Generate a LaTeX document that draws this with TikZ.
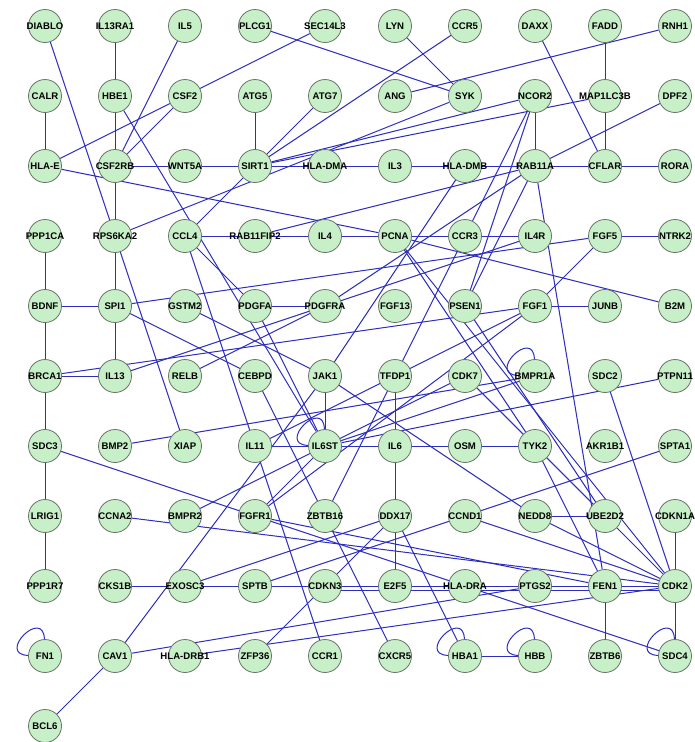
\documentclass[tikz,border=0pt]{standalone}
\usepackage{fontspec}
\setsansfont{Liberation Sans}
\usetikzlibrary{backgrounds}
\definecolor{edgeblue}{RGB}{45,45,190}
\definecolor{nodefill}{RGB}{200,240,200}
\definecolor{nodeline}{RGB}{105,115,105}
\tikzset{
  gn/.style={circle,minimum size=33pt,inner sep=0pt,fill=nodefill,draw=nodeline,line width=0.8pt,
    font=\sffamily\bfseries\fontsize{9.6}{11}\selectfont,text=black},
  ed/.style={draw=edgeblue,line width=1pt},
  selfloop/.style={out=178,in=92,distance=32pt}
}
\newcommand\gnode[4]{\node[gn] (#3) at ({45+70*#1},{26+70*#2}) {\makebox[0pt]{#4}};}
\begin{document}
\begin{tikzpicture}[x=1pt,y=-1pt]
\useasboundingbox (0,0) rectangle (695,742);
% row 0
\gnode{0}{0}{DIABLO}{DIABLO}
\gnode{1}{0}{IL13RA1}{IL13RA1}
\gnode{2}{0}{IL5}{IL5}
\gnode{3}{0}{PLCG1}{PLCG1}
\gnode{4}{0}{SEC14L3}{SEC14L3}
\gnode{5}{0}{LYN}{LYN}
\gnode{6}{0}{CCR5}{CCR5}
\gnode{7}{0}{DAXX}{DAXX}
\gnode{8}{0}{FADD}{FADD}
\gnode{9}{0}{RNH1}{RNH1}
% row 1
\gnode{0}{1}{CALR}{CALR}
\gnode{1}{1}{HBE1}{HBE1}
\gnode{2}{1}{CSF2}{CSF2}
\gnode{3}{1}{ATG5}{ATG5}
\gnode{4}{1}{ATG7}{ATG7}
\gnode{5}{1}{ANG}{ANG}
\gnode{6}{1}{SYK}{SYK}
\gnode{7}{1}{NCOR2}{NCOR2}
\gnode{8}{1}{MAP1LC3B}{MAP1LC3B}
\gnode{9}{1}{DPF2}{DPF2}
% row 2
\gnode{0}{2}{HLAE}{HLA-E}
\gnode{1}{2}{CSF2RB}{CSF2RB}
\gnode{2}{2}{WNT5A}{WNT5A}
\gnode{3}{2}{SIRT1}{SIRT1}
\gnode{4}{2}{HLADMA}{HLA-DMA}
\gnode{5}{2}{IL3}{IL3}
\gnode{6}{2}{HLADMB}{HLA-DMB}
\gnode{7}{2}{RAB11A}{RAB11A}
\gnode{8}{2}{CFLAR}{CFLAR}
\gnode{9}{2}{RORA}{RORA}
% row 3
\gnode{0}{3}{PPP1CA}{PPP1CA}
\gnode{1}{3}{RPS6KA2}{RPS6KA2}
\gnode{2}{3}{CCL4}{CCL4}
\gnode{3}{3}{RAB11FIP2}{RAB11FIP2}
\gnode{4}{3}{IL4}{IL4}
\gnode{5}{3}{PCNA}{PCNA}
\gnode{6}{3}{CCR3}{CCR3}
\gnode{7}{3}{IL4R}{IL4R}
\gnode{8}{3}{FGF5}{FGF5}
\gnode{9}{3}{NTRK2}{NTRK2}
% row 4
\gnode{0}{4}{BDNF}{BDNF}
\gnode{1}{4}{SPI1}{SPI1}
\gnode{2}{4}{GSTM2}{GSTM2}
\gnode{3}{4}{PDGFA}{PDGFA}
\gnode{4}{4}{PDGFRA}{PDGFRA}
\gnode{5}{4}{FGF13}{FGF13}
\gnode{6}{4}{PSEN1}{PSEN1}
\gnode{7}{4}{FGF1}{FGF1}
\gnode{8}{4}{JUNB}{JUNB}
\gnode{9}{4}{B2M}{B2M}
% row 5
\gnode{0}{5}{BRCA1}{BRCA1}
\gnode{1}{5}{IL13}{IL13}
\gnode{2}{5}{RELB}{RELB}
\gnode{3}{5}{CEBPD}{CEBPD}
\gnode{4}{5}{JAK1}{JAK1}
\gnode{5}{5}{TFDP1}{TFDP1}
\gnode{6}{5}{CDK7}{CDK7}
\gnode{7}{5}{BMPR1A}{BMPR1A}
\gnode{8}{5}{SDC2}{SDC2}
\gnode{9}{5}{PTPN11}{PTPN11}
% row 6
\gnode{0}{6}{SDC3}{SDC3}
\gnode{1}{6}{BMP2}{BMP2}
\gnode{2}{6}{XIAP}{XIAP}
\gnode{3}{6}{IL11}{IL11}
\gnode{4}{6}{IL6ST}{IL6ST}
\gnode{5}{6}{IL6}{IL6}
\gnode{6}{6}{OSM}{OSM}
\gnode{7}{6}{TYK2}{TYK2}
\gnode{8}{6}{AKR1B1}{AKR1B1}
\gnode{9}{6}{SPTA1}{SPTA1}
% row 7
\gnode{0}{7}{LRIG1}{LRIG1}
\gnode{1}{7}{CCNA2}{CCNA2}
\gnode{2}{7}{BMPR2}{BMPR2}
\gnode{3}{7}{FGFR1}{FGFR1}
\gnode{4}{7}{ZBTB16}{ZBTB16}
\gnode{5}{7}{DDX17}{DDX17}
\gnode{6}{7}{CCND1}{CCND1}
\gnode{7}{7}{NEDD8}{NEDD8}
\gnode{8}{7}{UBE2D2}{UBE2D2}
\gnode{9}{7}{CDKN1A}{CDKN1A}
% row 8
\gnode{0}{8}{PPP1R7}{PPP1R7}
\gnode{1}{8}{CKS1B}{CKS1B}
\gnode{2}{8}{EXOSC3}{EXOSC3}
\gnode{3}{8}{SPTB}{SPTB}
\gnode{4}{8}{CDKN3}{CDKN3}
\gnode{5}{8}{E2F5}{E2F5}
\gnode{6}{8}{HLADRA}{HLA-DRA}
\gnode{7}{8}{PTGS2}{PTGS2}
\gnode{8}{8}{FEN1}{FEN1}
\gnode{9}{8}{CDK2}{CDK2}
% row 9
\gnode{0}{9}{FN1}{FN1}
\gnode{1}{9}{CAV1}{CAV1}
\gnode{2}{9}{HLADRB1}{HLA-DRB1}
\gnode{3}{9}{ZFP36}{ZFP36}
\gnode{4}{9}{CCR1}{CCR1}
\gnode{5}{9}{CXCR5}{CXCR5}
\gnode{6}{9}{HBA1}{HBA1}
\gnode{7}{9}{HBB}{HBB}
\gnode{8}{9}{ZBTB6}{ZBTB6}
\gnode{9}{9}{SDC4}{SDC4}
% row 10
\gnode{0}{10}{BCL6}{BCL6}
\begin{scope}[on background layer]
\foreach \a/\b in {DIABLO/RPS6KA2, IL13RA1/HBE1, IL5/CSF2RB, PLCG1/SYK, SEC14L3/CSF2,
  LYN/SYK, CCR5/SIRT1, DAXX/CFLAR, FADD/MAP1LC3B, RNH1/ANG, CALR/HLAE, HBE1/CSF2RB,
  HBE1/IL6ST, CSF2/HLAE, CSF2/CSF2RB, ATG5/SIRT1, ATG7/SIRT1, SYK/RPS6KA2, NCOR2/SIRT1,
  MAP1LC3B/SIRT1, NCOR2/RAB11A, NCOR2/CCR3, NCOR2/PSEN1, MAP1LC3B/CFLAR, DPF2/RAB11A,
  HLAE/PCNA, CSF2RB/WNT5A, WNT5A/SIRT1, CSF2RB/RPS6KA2, SIRT1/HLADMA, HLADMA/IL3,
  IL3/HLADMB, HLADMB/RAB11A, RAB11A/CFLAR, CFLAR/RORA, SIRT1/CCL4, HLADMB/JAK1,
  RAB11A/RAB11FIP2, RAB11A/PDGFRA, RAB11A/PSEN1, RAB11A/FEN1, CCL4/RAB11FIP2,
  RAB11FIP2/IL4, IL4/PCNA, PCNA/CCR3, CCR3/IL4R, PCNA/B2M, PCNA/TYK2, PCNA/CDK2,
  FGF5/NTRK2, SPI1/FGF5, FGF5/FGF1, RPS6KA2/SPI1, RPS6KA2/XIAP, PPP1CA/BDNF, BDNF/SPI1,
  BDNF/BRCA1, SPI1/IL13, SPI1/CEBPD, CCL4/PDGFA, CCL4/IL11, GSTM2/JAK1, PDGFA/PDGFRA,
  PDGFA/IL6ST, PDGFRA/IL13, PDGFRA/RELB, PDGFRA/IL4R, FGF1/JUNB, FGF1/BRCA1, FGF1/FGFR1,
  FGF1/IL11, PSEN1/UBE2D2, BRCA1/IL13, BRCA1/SDC3, CEBPD/ZBTB16, JAK1/IL6ST, JAK1/CAV1,
  JAK1/NEDD8, TFDP1/IL6, TFDP1/CCR3, TFDP1/ZBTB16, CDK7/IL6ST, CDK7/TYK2, CDK7/UBE2D2,
  BMPR1A/IL6ST, BMP2/BMPR1A, SDC2/CDK2, PTPN11/IL6ST, SDC3/LRIG1, SDC3/FGFR1,
  IL11/IL6ST, IL11/CCR1, IL6ST/IL6, IL6ST/FGFR1, IL6ST/BMPR2, IL6/OSM, IL6/DDX17,
  OSM/TYK2, TYK2/UBE2D2, TYK2/FEN1, SPTA1/CCND1, LRIG1/PPP1R7, CCNA2/CDK2,
  FGFR1/HLADRA, FGFR1/FEN1, ZBTB16/CXCR5, DDX17/E2F5, DDX17/EXOSC3, DDX17/CDKN3,
  DDX17/HBA1, CCND1/SPTB, CCND1/CDK2, NEDD8/UBE2D2, NEDD8/CDK2, UBE2D2/CDK2,
  CDKN1A/CDK2, CKS1B/EXOSC3, EXOSC3/SPTB, SPTB/CDKN3, CDKN3/E2F5, E2F5/HLADRA,
  HLADRA/PTGS2, PTGS2/FEN1, FEN1/CDK2, HLADRA/SDC4, FEN1/ZBTB6, CDK2/SDC4,
  ZFP36/CDKN3, CAV1/PTGS2, HLADRB1/CDK2, CAV1/BCL6, HBA1/HBB}
  {\draw[ed] (\a) -- (\b);}
\draw[ed] (CDKN3.-15) -- (CDK2.195);
\foreach \n in {FN1, IL6ST, BMPR1A, HBA1, HBB, SDC4}
  {\draw[ed] (\n) to[selfloop] (\n);}
\end{scope}
\end{tikzpicture}
\end{document}
